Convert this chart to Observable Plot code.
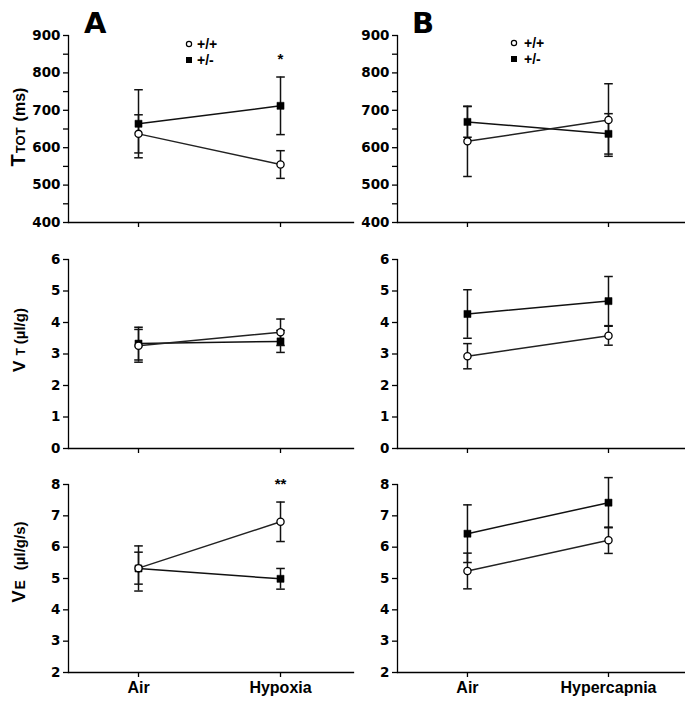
<!DOCTYPE html>
<html>
<head>
<meta charset="utf-8">
<script src="https://cdn.jsdelivr.net/npm/d3@7"></script>
<script src="https://cdn.jsdelivr.net/npm/@observablehq/plot@0.6"></script>
<style>
  html, body { margin: 0; padding: 0; background: #fff; }
  #root { position: relative; width: 685px; height: 706px; overflow: hidden; background: #fff; }
  .cell { position: absolute; }
  .cell svg { overflow: visible; background: transparent; }
  #overlay { position: absolute; left: 0; top: 0; pointer-events: none; }
</style>
</head>
<body>
<div id="root"></div>
<script>
// ---------- data (means and error half-widths; index 0 = Air, 1 = challenge) ----------
const conditionsA = ["Air", "Hypoxia"];
const conditionsB = ["Air", "Hypercapnia"];
const genotypes = ["+/+", "+/-"];

// Ttot (ms)
const ttotA_wt = [637, 555];   const ttotA_wtErr = [51, 37];
const ttotA_het = [664, 712];  const ttotA_hetErr = [91, 77];
const ttotB_wt = [617, 674];   const ttotB_wtErr = [94, 97];
const ttotB_het = [669, 637];  const ttotB_hetErr = [41, 54];

// VT (µl/g)
const vtA_wt = [3.26, 3.69];   const vtA_wtErr = [0.52, 0.42];
const vtA_het = [3.33, 3.40];  const vtA_hetErr = [0.52, 0.35];
const vtB_wt = [2.93, 3.58];   const vtB_wtErr = [0.40, 0.30];
const vtB_het = [4.27, 4.68];  const vtB_hetErr = [0.77, 0.78];

// VE (µl/g/s)
const veA_wt = [5.33, 6.81];   const veA_wtErr = [0.51, 0.63];
const veA_het = [5.32, 4.99];  const veA_hetErr = [0.72, 0.33];
const veB_wt = [5.24, 6.22];   const veB_wtErr = [0.57, 0.42];
const veB_het = [6.43, 7.42];  const veB_hetErr = [0.92, 0.80];

// significance markers
const starsA_ttot = ["", "*"];
const starsA_ve = ["", "**"];

// axis ticks
const ttotTicks = [400, 500, 600, 700, 800, 900];
const ttotMinor = [450, 550, 650, 750, 850];
const vtTicks = [0, 1, 2, 3, 4, 5, 6];
const veTicks = [2, 3, 4, 5, 6, 7, 8];

// ---------- drawing ----------
const capSymbol = {
  draw(ctx, size) {
    const r = Math.sqrt(size / Math.PI);
    ctx.moveTo(-r, 0);
    ctx.lineTo(r, 0);
  }
};

const columns = {
  A: {left: 0, width: 355, marginLeft: 68, marginRight: 2, xDomain: [-0.493, 1.514]},
  B: {left: 340, width: 345, marginLeft: 57, marginRight: 0, xDomain: [-0.496, 1.546]}
};
const rowsLayout = [
  {top: 0, height: 232, marginTop: 35, marginBottom: 10},
  {top: 240, height: 220, marginTop: 19, marginBottom: 12},
  {top: 460, height: 246, marginTop: 24, marginBottom: 34}
];

function panel(col, row, cfg) {
  const C = columns[col], R = rowsLayout[row];
  const wt = cfg.wt.map((v, i) => ({i, v, e: cfg.wtErr[i], g: genotypes[0]}));
  const het = cfg.het.map((v, i) => ({i, v, e: cfg.hetErr[i], g: genotypes[1]}));
  const all = het.concat(wt);
  const stars = (cfg.stars || []).map((s, i) => ({i, s, top: Math.max(cfg.wt[i] + cfg.wtErr[i], cfg.het[i] + cfg.hetErr[i])})).filter(d => d.s);

  const marks = [
    Plot.frame({anchor: "left", strokeWidth: 1.3}),
    Plot.frame({anchor: "bottom", strokeWidth: 1.3}),
    Plot.axisY({ticks: cfg.ticks, tickSize: 5, tickPadding: 3, tickFormat: d => String(d),
      fontFamily: "DejaVu Sans", fontWeight: "bold", fontSize: 13.5, strokeWidth: 1.3}),
    cfg.minor ? Plot.axisY({ticks: cfg.minor, tickSize: 5, tickFormat: () => "", strokeWidth: 1.3}) : null,
    Plot.axisX({ticks: cfg.cats.map((_, i) => i), tickSize: 5, tickPadding: 4,
      tickFormat: cfg.showX ? (i => cfg.cats[i]) : (() => ""),
      fontFamily: "Liberation Sans", fontWeight: "bold", fontSize: 16, strokeWidth: 1.3}),
    Plot.ruleX(all, {x: "i", y1: d => d.v - d.e, y2: d => d.v + d.e, stroke: "#111", strokeWidth: 1.5}),
    Plot.dot(all, {x: "i", y: d => d.v + d.e, symbol: capSymbol, r: 4.3, stroke: "#111", strokeWidth: 1.5}),
    Plot.dot(all, {x: "i", y: d => d.v - d.e, symbol: capSymbol, r: 4.3, stroke: "#111", strokeWidth: 1.5}),
    Plot.line(het, {x: "i", y: "v", stroke: "#111", strokeWidth: 1.5}),
    Plot.line(wt, {x: "i", y: "v", stroke: "#222", strokeWidth: 1.5}),
    Plot.dot(het, {x: "i", y: "v", symbol: "square", r: 4, fill: "#000", stroke: "#000", strokeWidth: 0.5}),
    Plot.dot(wt, {x: "i", y: "v", symbol: "circle", r: 3.6, fill: "#fff", stroke: "#000", strokeWidth: 1.3}),
    Plot.text(stars, {x: "i", y: "top", text: "s", dy: -18, fontSize: 15, fontWeight: "bold", fontFamily: "Liberation Sans", fill: "#000"})
  ];

  const chart = Plot.plot({
    width: C.width,
    height: R.height,
    marginLeft: C.marginLeft,
    marginRight: C.marginRight,
    marginTop: R.marginTop,
    marginBottom: R.marginBottom,
    x: {type: "linear", domain: C.xDomain, label: null},
    y: {domain: cfg.domain, label: null},
    style: {background: "transparent", overflow: "visible", color: "#000"},
    marks
  });
  const div = document.createElement("div");
  div.className = "cell";
  div.style.left = C.left + "px";
  div.style.top = R.top + "px";
  div.appendChild(chart);
  document.getElementById("root").appendChild(div);
}

panel("A", 0, {cats: conditionsA, wt: ttotA_wt, wtErr: ttotA_wtErr, het: ttotA_het, hetErr: ttotA_hetErr,
  domain: [400, 900], ticks: ttotTicks, minor: ttotMinor, stars: starsA_ttot});
panel("B", 0, {cats: conditionsB, wt: ttotB_wt, wtErr: ttotB_wtErr, het: ttotB_het, hetErr: ttotB_hetErr,
  domain: [400, 900], ticks: ttotTicks, minor: ttotMinor});
panel("A", 1, {cats: conditionsA, wt: vtA_wt, wtErr: vtA_wtErr, het: vtA_het, hetErr: vtA_hetErr,
  domain: [0, 6], ticks: vtTicks});
panel("B", 1, {cats: conditionsB, wt: vtB_wt, wtErr: vtB_wtErr, het: vtB_het, hetErr: vtB_hetErr,
  domain: [0, 6], ticks: vtTicks});
panel("A", 2, {cats: conditionsA, wt: veA_wt, wtErr: veA_wtErr, het: veA_het, hetErr: veA_hetErr,
  domain: [2, 8], ticks: veTicks, stars: starsA_ve, showX: true});
panel("B", 2, {cats: conditionsB, wt: veB_wt, wtErr: veB_wtErr, het: veB_het, hetErr: veB_hetErr,
  domain: [2, 8], ticks: veTicks, showX: true});

// ---------- overlay: panel letters, legends, y-axis titles ----------
const svg = d3.select("#root").append("svg").attr("id", "overlay")
  .attr("width", 685).attr("height", 706)
  .style("font-family", "'Liberation Sans', Arial, sans-serif").style("font-weight", "bold");

svg.append("text").attr("x", 84).attr("y", 33).attr("font-size", 29).attr("font-family", "DejaVu Sans").text("A");
svg.append("text").attr("x", 412).attr("y", 33).attr("font-size", 29).attr("font-family", "DejaVu Sans").text("B");

function legend(x, y0, tx) {
  svg.append("circle").attr("cx", x).attr("cy", y0).attr("r", 2.6).attr("fill", "#fff").attr("stroke", "#000").attr("stroke-width", 1.2);
  svg.append("text").attr("x", tx).attr("y", y0 + 5).attr("font-size", 14).text(genotypes[0]);
  svg.append("rect").attr("x", x - 3).attr("y", y0 + 13).attr("width", 6).attr("height", 6).attr("fill", "#000");
  svg.append("text").attr("x", tx).attr("y", y0 + 21).attr("font-size", 14).text(genotypes[1]);
}
legend(189, 44, 197);
legend(514, 43, 524);

function ylabel(cx, cy, parts) {
  const t = svg.append("text").attr("transform", `translate(${cx},${cy}) rotate(-90)`).attr("text-anchor", "middle");
  parts.forEach(([s, size, dx]) => t.append("tspan").attr("font-size", size).attr("dx", dx || 0).text(s));
}
ylabel(25, 127, [["T", 20], ["TOT", 13, 1], ["(ms)", 16, 6]]);
ylabel(25, 340, [["V", 17], ["T", 12, 5], ["(µl/g)", 15, 4]]);
ylabel(25, 562, [["V", 18], ["E", 14, 1], ["(µl/g/s)", 15, 10]]);
</script>
</body>
</html>
